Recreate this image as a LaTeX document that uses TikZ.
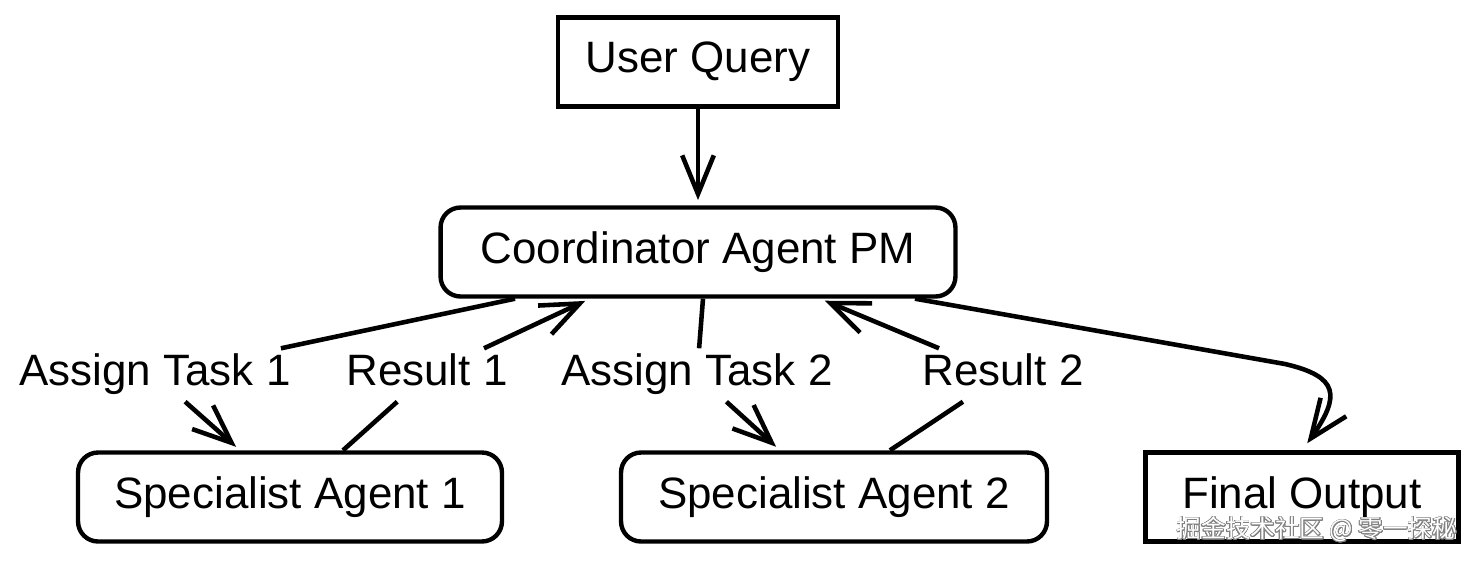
\documentclass[tikz,border=0pt]{standalone}
\usepackage{fontspec}
\setmainfont{Liberation Sans}
\newfontfamily\cjk{Noto Sans CJK SC}
\usepackage{contour}
\contourlength{0.5pt}
\usetikzlibrary{arrows.meta,bending}

\tikzset{
  sqbox/.style={draw, line width=2.5pt, minimum height=1.78cm, font=\fontsize{25}{30}\selectfont},
  rbox/.style={sqbox, rounded corners=0.4cm},
  lbl/.style={fill=white, inner sep=3pt, text height=18pt, text depth=6pt, font=\fontsize{25}{30}\selectfont},
  link/.style={line width=2.6pt, line join=round, -{Straight Barb[length=22pt,width=18pt,line width=2.6pt]}, shorten >=3pt}
}

\begin{document}
\begin{tikzpicture}[x=0.02cm,y=-0.02cm]
      \useasboundingbox (0,0) rectangle (1477,562);
      \node[sqbox, minimum width=5.6cm] (query) at (698,62) {User Query};
      \node[rbox, minimum width=10.3cm] (coord) at (698,252) {Coordinator Agent PM};
      \node[rbox, minimum width=8.48cm] (spec1) at (290,497) {Specialist Agent 1};
      \node[rbox, minimum width=8.52cm] (spec2) at (834,497) {Specialist Agent 2};
      \node[sqbox, minimum width=6.26cm] (final) at (1302,497) {Final Output};

      \node[lbl] (task1) at (155,375) {Assign Task 1};
      \node[lbl] (res1) at (427,375) {Result 1};
      \node[lbl] (task2) at (697,375) {Assign Task 2};
      \node[lbl] (res2) at (1003,375) {Result 2};
      \coordinate (curl) at (1285,364);

      \draw[link] (query) -- (coord);
      \draw[link] ([xshift=-3.66cm]coord.south) -- (task1) -- ([xshift=-1cm]spec1.north);
      \draw[link] ([xshift=1.06cm]spec1.north) -- (res1) -- ([xshift=-2.16cm]coord.south);
      \draw[link] ([xshift=0.1cm]coord.south) -- (task2) -- ([xshift=-1.08cm]spec2.north);
      \draw[link] ([xshift=1.12cm]spec2.north) -- (res2) -- ([xshift=2.44cm]coord.south);
      \draw[link, shorten >=5pt] ([xshift=4.34cm]coord.south) -- (curl) .. controls (1345,378) and (1340,400) .. (final.north);

      % watermark
      \node[font=\cjk\fontsize{14}{16}\selectfont, text=white] (mark) at (1317,530) {\contour{gray}{掘金技术社区 @ 零一探秘}};
\end{tikzpicture}
\end{document}
